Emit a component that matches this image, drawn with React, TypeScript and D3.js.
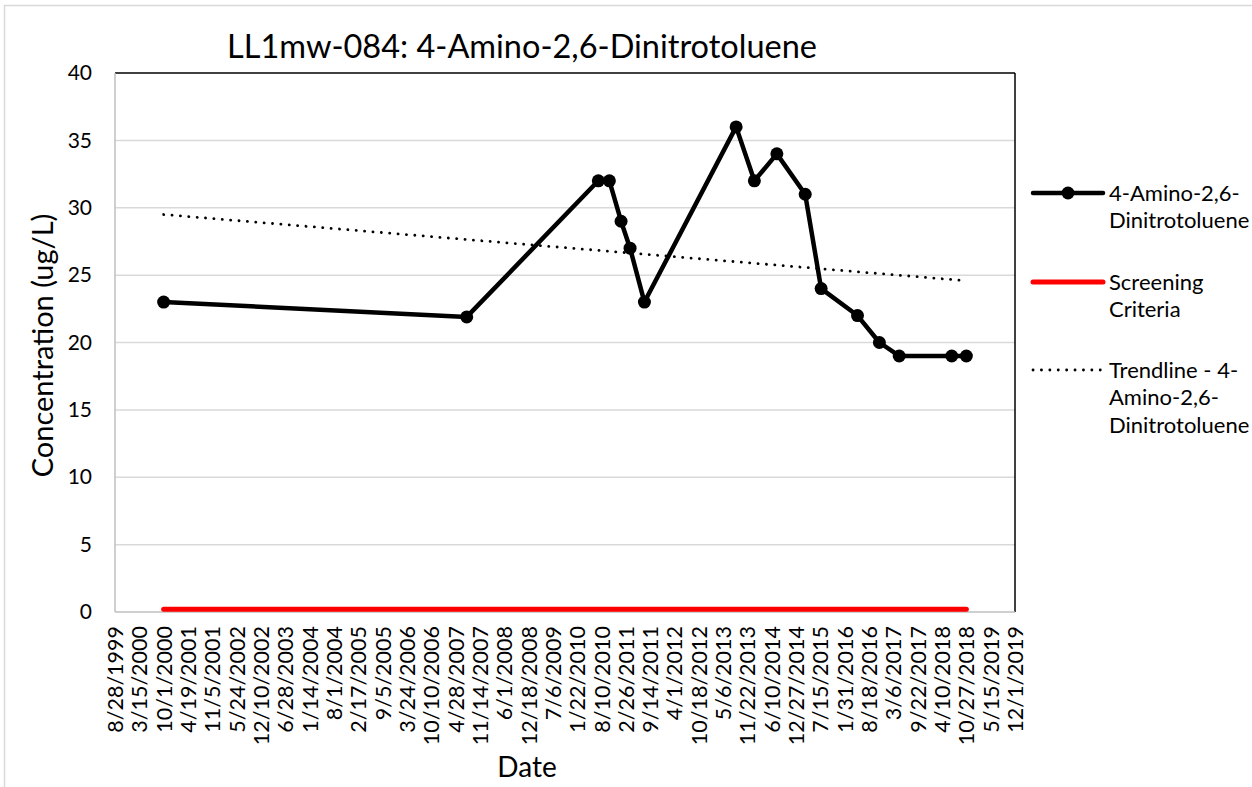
import React, { useRef, useEffect } from "react";
import * as d3 from "d3";

// ─── Data ─────────────────────────────────────────────────────────────────
const sampleDates = [
  "10/1/2000", "7/29/2007", "7/15/2010", "10/14/2010", "1/18/2011", "4/2/2011",
  "7/29/2011", "8/21/2013", "1/18/2014", "7/22/2014", "3/12/2015", "7/21/2015",
  "5/15/2016", "11/11/2016", "4/23/2017", "6/29/2018", "10/27/2018",
];
const concentrations = [23, 21.9, 32, 32, 29, 27, 23, 36, 32, 34, 31, 24, 22, 20, 19, 19, 19];
const screeningValue = 0.2;

const xTickLabels = [
  "8/28/1999", "3/15/2000", "10/1/2000", "4/19/2001", "11/5/2001", "5/24/2002",
  "12/10/2002", "6/28/2003", "1/14/2004", "8/1/2004", "2/17/2005", "9/5/2005",
  "3/24/2006", "10/10/2006", "4/28/2007", "11/14/2007", "6/1/2008", "12/18/2008",
  "7/6/2009", "1/22/2010", "8/10/2010", "2/26/2011", "9/14/2011", "4/1/2012",
  "10/18/2012", "5/6/2013", "11/22/2013", "6/10/2014", "12/27/2014", "7/15/2015",
  "1/31/2016", "8/18/2016", "3/6/2017", "9/22/2017", "4/10/2018", "10/27/2018",
  "5/15/2019", "12/1/2019",
];
const yTicks = [0, 5, 10, 15, 20, 25, 30, 35, 40];

const FONT = "Lato, 'Open Sans', sans-serif";

export default function App() {
  const svgRef = useRef<SVGSVGElement>(null);

  useEffect(() => {
    const width = 1252;
    const height = 787;
    const marginLeft = 115;
    const marginRight = 237;   // plot right edge at 1015
    const marginTop = 73;
    const bottomY = 612;

    const parse = d3.utcParse("%m/%d/%Y");
    const data = sampleDates.map((s, i) => ({ date: parse(s) as Date, value: concentrations[i] }));
    const tickDates = xTickLabels.map((s) => parse(s) as Date);

    const svg = d3.select(svgRef.current);
    svg.selectAll("*").remove();

    svg.append("rect").attr("width", width).attr("height", height).attr("fill", "#fff");
    // chart area border (only left/top visible)
    svg.append("rect")
      .attr("x", 4.5).attr("y", 5.5).attr("width", 1400).attr("height", 1000)
      .attr("fill", "none").attr("stroke", "#d9d9d9").attr("stroke-width", 1.5);

    const x = d3.scaleUtc()
      .domain([tickDates[0], tickDates[tickDates.length - 1]])
      .range([marginLeft, width - marginRight]);

    const y = d3.scaleLinear()
      .domain([0, 40])
      .range([bottomY, marginTop]);

    // gridlines
    svg.append("g")
      .selectAll("line")
      .data(yTicks.filter((d) => d > 0 && d < 40))
      .join("line")
      .attr("x1", x.range()[0]).attr("x2", x.range()[1])
      .attr("y1", (d) => y(d)).attr("y2", (d) => y(d))
      .attr("stroke", "#d9d9d9").attr("stroke-width", 1.5);

    // plot border: top & right black, left & bottom gray
    svg.append("line")
      .attr("x1", x.range()[0]).attr("x2", x.range()[1])
      .attr("y1", y(40)).attr("y2", y(40))
      .attr("stroke", "#000").attr("stroke-width", 1.5);
    svg.append("line")
      .attr("x1", x.range()[1]).attr("x2", x.range()[1])
      .attr("y1", y(40)).attr("y2", y(0))
      .attr("stroke", "#000").attr("stroke-width", 1.5);
    svg.append("line")
      .attr("x1", x.range()[0]).attr("x2", x.range()[0])
      .attr("y1", y(40)).attr("y2", y(0))
      .attr("stroke", "#bfbfbf").attr("stroke-width", 1.5);
    svg.append("line")
      .attr("x1", x.range()[0]).attr("x2", x.range()[1])
      .attr("y1", y(0)).attr("y2", y(0))
      .attr("stroke", "#bfbfbf").attr("stroke-width", 1.5);

    // y axis labels
    const yAxis = svg.append("g")
      .attr("transform", `translate(${marginLeft},0)`)
      .call(d3.axisLeft(y).tickValues(yTicks).tickSize(0).tickPadding(23));
    yAxis.select(".domain").remove();
    yAxis.selectAll("text")
      .attr("fill", "#000")
      .style("font-family", FONT)
      .style("font-size", "21px");

    // x axis labels, rotated
    const fmt = (d: Date) => `${d.getUTCMonth() + 1}/${d.getUTCDate()}/${d.getUTCFullYear()}`;
    const xAxis = svg.append("g")
      .attr("transform", `translate(0,${bottomY})`)
      .call(d3.axisBottom(x).tickValues(tickDates).tickSize(0).tickFormat((d) => fmt(d as Date)));
    xAxis.select(".domain").remove();
    xAxis.selectAll("text")
      .attr("fill", "#000")
      .attr("transform", "rotate(-90)")
      .attr("text-anchor", "end")
      .attr("x", -14)
      .attr("y", 0)
      .attr("dy", "0.35em")
      .style("font-family", FONT)
      .style("font-size", "21.5px");

    // screening criteria
    svg.append("line")
      .attr("x1", x(data[0].date)).attr("x2", x(data[data.length - 1].date))
      .attr("y1", y(screeningValue)).attr("y2", y(screeningValue))
      .attr("stroke", "#ff0000").attr("stroke-width", 5)
      .attr("stroke-linecap", "round");

    // linear trendline (least squares on date)
    const xs = data.map((d) => +d.date);
    const mx = d3.mean(xs) as number;
    const my = d3.mean(data, (d) => d.value) as number;
    const slope = d3.sum(data, (d) => (+d.date - mx) * (d.value - my)) / d3.sum(xs, (v) => (v - mx) ** 2);
    const trend = (t: Date) => my + slope * (+t - mx);
    const t0 = data[0].date;
    const t1 = data[data.length - 1].date;
    svg.append("line")
      .attr("x1", x(t0)).attr("y1", y(trend(t0)))
      .attr("x2", x(t1)).attr("y2", y(trend(t1)))
      .attr("stroke", "#000").attr("stroke-width", 2.8)
      .attr("stroke-linecap", "round")
      .attr("stroke-dasharray", "0.1 8.3");

    // main series
    const line = d3.line<{ date: Date; value: number }>()
      .x((d) => x(d.date))
      .y((d) => y(d.value));
    svg.append("path")
      .datum(data)
      .attr("fill", "none")
      .attr("stroke", "#000")
      .attr("stroke-width", 4.5)
      .attr("stroke-linejoin", "round")
      .attr("d", line);
    svg.append("g")
      .selectAll("circle")
      .data(data)
      .join("circle")
      .attr("cx", (d) => x(d.date))
      .attr("cy", (d) => y(d.value))
      .attr("r", 6.5)
      .attr("fill", "#000");

    // title & axis titles
    svg.append("text")
      .attr("x", 522).attr("y", 58)
      .attr("text-anchor", "middle")
      .style("font-family", FONT).style("font-size", "32.5px")
      .text("LL1mw-084: 4-Amino-2,6-Dinitrotoluene");
    svg.append("text")
      .attr("transform", `translate(53,${(y(0) + y(40)) / 2 + 3}) rotate(-90)`)
      .attr("text-anchor", "middle")
      .style("font-family", FONT).style("font-size", "29px")
      .text("Concentration (ug/L)");
    svg.append("text")
      .attr("x", 527).attr("y", 777)
      .attr("text-anchor", "middle")
      .style("font-family", FONT).style("font-size", "28px")
      .text("Date");

    // legend
    const lg = svg.append("g").style("font-family", FONT).style("font-size", "22px");
    const lx0 = 1033, lx1 = 1103, tx = 1109, lh = 27.5;
    const legendItems = [
      { y: 193, lines: ["4-Amino-2,6-", "Dinitrotoluene"], kind: "series" },
      { y: 282, lines: ["Screening", "Criteria"], kind: "screen" },
      { y: 370, lines: ["Trendline - 4-", "Amino-2,6-", "Dinitrotoluene"], kind: "trend" },
    ];
    legendItems.forEach((it) => {
      const ln = lg.append("line")
        .attr("x1", lx0).attr("x2", lx1).attr("y1", it.y).attr("y2", it.y);
      if (it.kind === "series") {
        ln.attr("stroke", "#000").attr("stroke-width", 4.5).attr("stroke-linecap", "round");
        lg.append("circle").attr("cx", (lx0 + lx1) / 2).attr("cy", it.y).attr("r", 6.5).attr("fill", "#000");
      } else if (it.kind === "screen") {
        ln.attr("stroke", "#ff0000").attr("stroke-width", 5).attr("stroke-linecap", "round");
      } else {
        ln.attr("stroke", "#000").attr("stroke-width", 2.8).attr("stroke-linecap", "round")
          .attr("stroke-dasharray", "0.1 8.3");
      }
      it.lines.forEach((t, i) => {
        lg.append("text")
          .attr("x", tx).attr("y", it.y + i * lh)
          .attr("dy", "0.35em")
          .text(t);
      });
    });
  }, []);

  return (
    <svg
      ref={svgRef}
      width={1252}
      height={787}
      style={{ position: "absolute", left: 0, top: 0, display: "block" }}
    />
  );
}
